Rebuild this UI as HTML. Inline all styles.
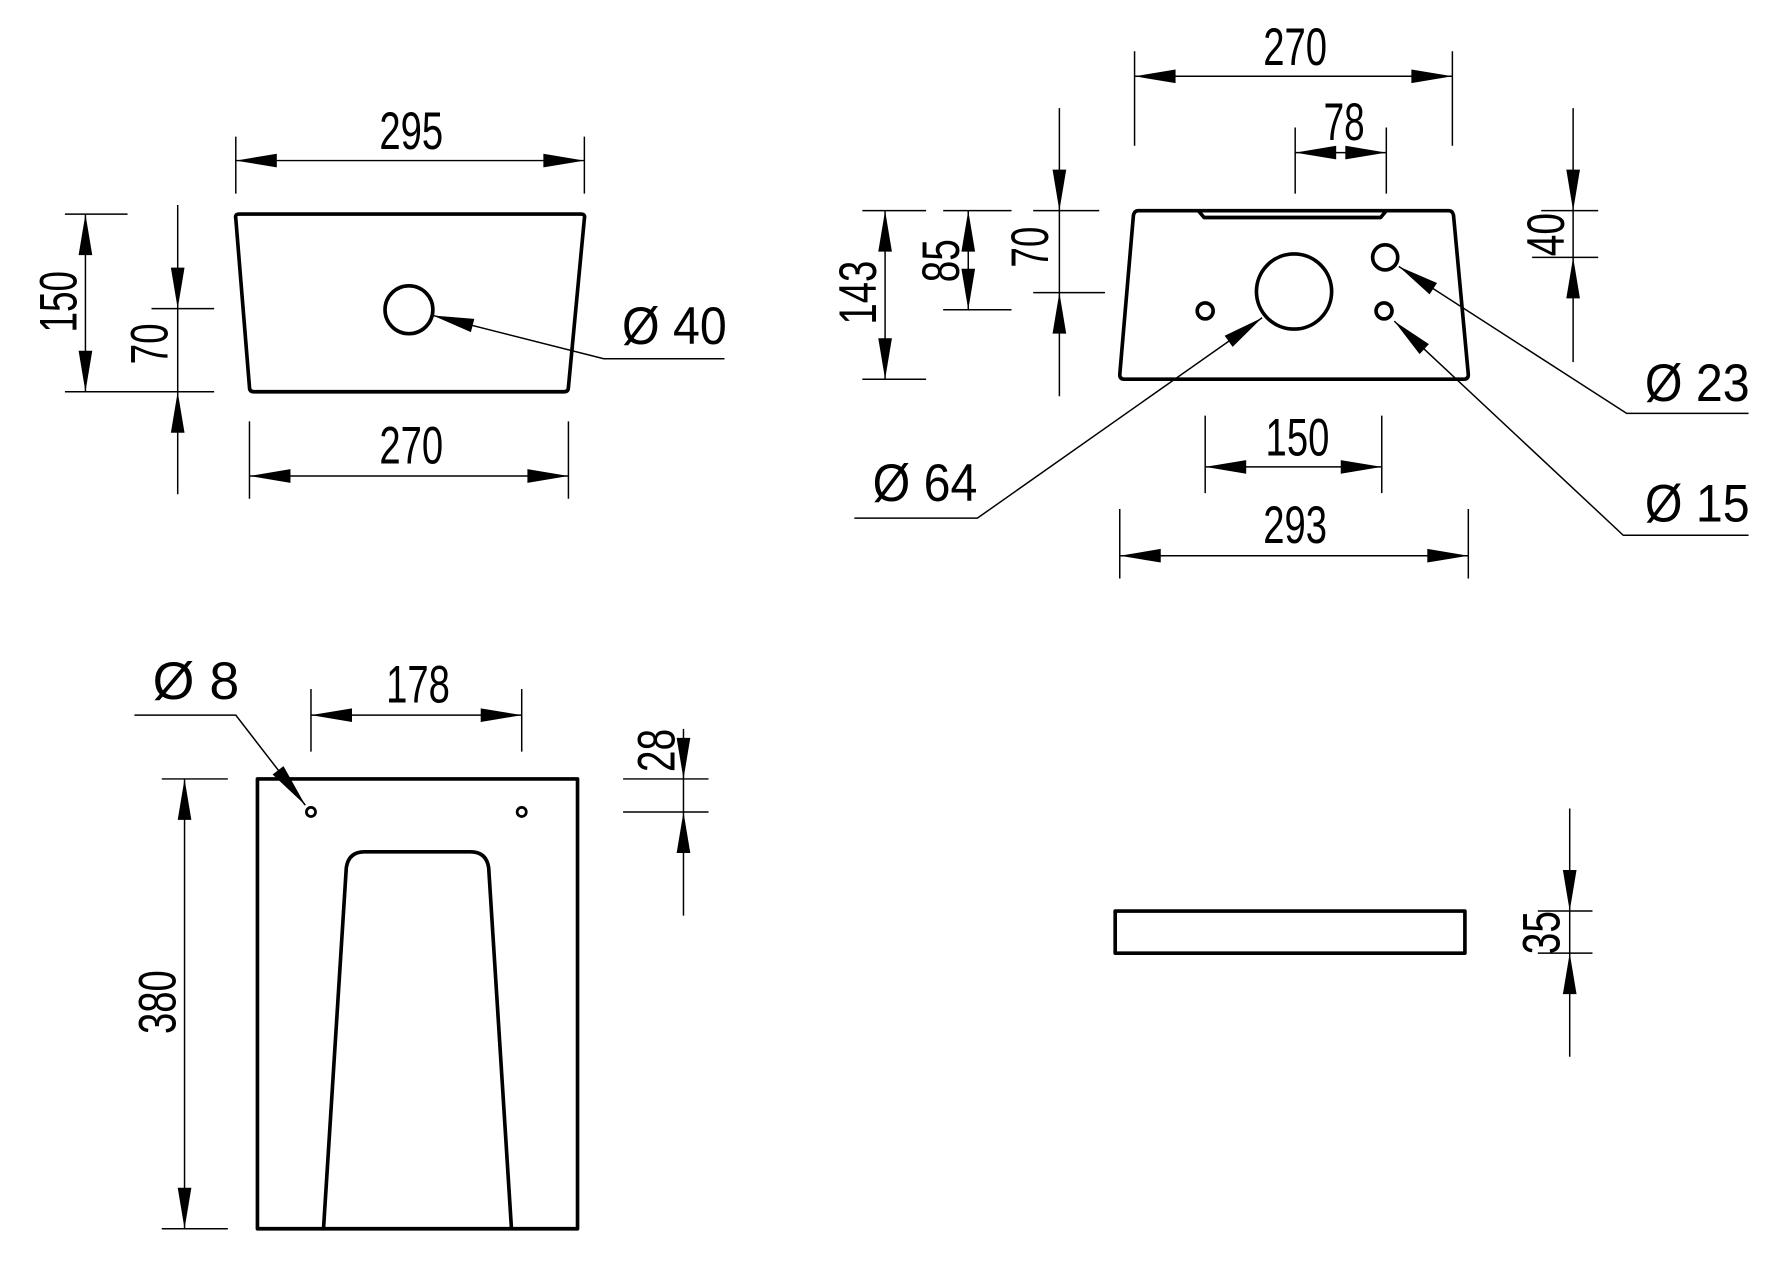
<!DOCTYPE html>
<html><head><meta charset="utf-8"><style>
html,body{margin:0;padding:0;background:#fff;}
svg{display:block;}
text{font-family:"Liberation Sans",sans-serif;font-size:46px;fill:#000;}
</style></head><body>
<svg width="1785" height="1280" viewBox="0 0 1567 1124" preserveAspectRatio="none" xmlns="http://www.w3.org/2000/svg">
<g fill="none" stroke="#000" stroke-width="3.2" stroke-linejoin="round">
<path d="M210,188 L510,188 Q514,188 513,192 L499,340 Q499,344 495,344 L223,344 Q219,344 219,340 L207,192 Q206,188 210,188 Z"/>
<circle cx="359" cy="272" r="21"/>
<path d="M999,185 L1272,185 Q1275,185 1276,189 L1289,329 Q1289,333 1285,333 L987,333 Q983,333 983,329 L995,189 Q996,185 999,185 Z"/>
<path d="M1052,185 L1057,191 L1212,191 L1217,185"/>
<circle cx="1136" cy="256" r="33"/>
<circle cx="1216" cy="226" r="11"/>
<circle cx="1215" cy="273" r="7"/>
<circle cx="1058" cy="273" r="7"/>
<rect x="226" y="684" width="281" height="395"/>
<circle cx="273" cy="713" r="4" stroke-width="2.4"/>
<circle cx="458" cy="713" r="4" stroke-width="2.4"/>
<path d="M284,1079 L304,762 Q306,748 320,748 L413,748 Q427,748 429,762 L449,1079"/>
<rect x="979" y="800" width="307" height="37"/>
</g>
<g fill="none" stroke="#000" stroke-width="1.3">
<path d="M207,120V170M513,120V170M207,141H513"/>
<path d="M219,370V438M499,370V438M219,418H499"/>
<path d="M57,188H112M57,344H188M75,188V344"/>
<path d="M156,180V434M133,271H188"/>
<path d="M380,277L530,315H636"/>
<path d="M996,45V128M1275,45V128M996,67H1275"/>
<path d="M1137,112V170M1217,112V170M1137,134H1217"/>
<path d="M757,185H813M757,333H813M777,185V333"/>
<path d="M828,185H888M828,272H888M850,185V272"/>
<path d="M930,95V348M907,185H965M907,257H970"/>
<path d="M1381,95V318M1353,185H1403M1345,226H1403"/>
<path d="M1228,234L1428,363H1535"/>
<path d="M1224,282L1425,470H1535"/>
<path d="M1108,279L858,455H750"/>
<path d="M1058,365V433M1213,365V433M1058,410H1213"/>
<path d="M983,447V508M1289,447V508M983,488H1289"/>
<path d="M273,605V660M458,605V660M273,628H458"/>
<path d="M118,628H207L268,707"/>
<path d="M142,684H200M142,1079H200M162,684V1079"/>
<path d="M600,640V804M547,684H622M547,713H622"/>
<path d="M1378,710V928M1350,800H1398M1350,837H1398"/>
</g>
<g fill="#000">
<polygon points="207,141 243,135 243,147"/><polygon points="513,141 477,135 477,147"/>
<polygon points="219,418 255,412 255,424"/><polygon points="499,418 463,412 463,424"/>
<polygon points="75,188 69,224 81,224"/><polygon points="75,344 69,308 81,308"/>
<polygon points="156,271 150,235 162,235"/><polygon points="156,344 150,380 162,380"/>
<polygon points="380,277 416.4,280 413.4,291.6"/>
<polygon points="996,67 1032,61 1032,73"/><polygon points="1275,67 1239,61 1239,73"/>
<polygon points="1137,134 1173,128 1173,140"/><polygon points="1217,134 1181,128 1181,140"/>
<polygon points="777,185 771,221 783,221"/><polygon points="777,333 771,297 783,297"/>
<polygon points="850,185 844,221 856,221"/><polygon points="850,272 844,236 856,236"/>
<polygon points="930,185 924,149 936,149"/><polygon points="930,257 924,293 936,293"/>
<polygon points="1381,185 1375,149 1387,149"/><polygon points="1381,226 1375,262 1387,262"/>
<polygon points="1228,234 1255,258.5 1261.5,248.5"/>
<polygon points="1224,282 1246.2,311 1254.4,302.2"/>
<polygon points="1108,279 1075.1,294.8 1082.1,304.6"/>
<polygon points="1058,410 1094,404 1094,416"/><polygon points="1213,410 1177,404 1177,416"/>
<polygon points="983,488 1019,482 1019,494"/><polygon points="1289,488 1253,482 1253,494"/>
<polygon points="273,628 309,622 309,634"/><polygon points="458,628 422,622 422,634"/>
<polygon points="268,707 248.9,672.8 239.3,680.1"/>
<polygon points="162,684 156,720 168,720"/><polygon points="162,1079 156,1043 168,1043"/>
<polygon points="600,684 594,648 606,648"/><polygon points="600,713 594,749 606,749"/>
<polygon points="1378,800 1372,764 1384,764"/><polygon points="1378,837 1372,873 1384,873"/>
</g>
<g>
<text x="333" y="131" textLength="56" lengthAdjust="spacingAndGlyphs">295</text>
<text x="333" y="407" textLength="56" lengthAdjust="spacingAndGlyphs">270</text>
<text transform="translate(67,292) rotate(-90)" textLength="54" lengthAdjust="spacingAndGlyphs">150</text>
<text transform="translate(147,320) rotate(-90)" textLength="36" lengthAdjust="spacingAndGlyphs">70</text>
<text x="546" y="302" textLength="92" lengthAdjust="spacingAndGlyphs">Ø 40</text>
<text x="1109" y="57" textLength="56" lengthAdjust="spacingAndGlyphs">270</text>
<text x="1162" y="123" textLength="36" lengthAdjust="spacingAndGlyphs">78</text>
<text transform="translate(769,285) rotate(-90)" textLength="56" lengthAdjust="spacingAndGlyphs">143</text>
<text transform="translate(842,248) rotate(-90)" textLength="38" lengthAdjust="spacingAndGlyphs">85</text>
<text transform="translate(920,235) rotate(-90)" textLength="36" lengthAdjust="spacingAndGlyphs">70</text>
<text transform="translate(1373,225) rotate(-90)" textLength="38" lengthAdjust="spacingAndGlyphs">40</text>
<text x="1444" y="352" textLength="92" lengthAdjust="spacingAndGlyphs">Ø 23</text>
<text x="1444" y="458" textLength="92" lengthAdjust="spacingAndGlyphs">Ø 15</text>
<text x="766" y="440" textLength="92" lengthAdjust="spacingAndGlyphs">Ø 64</text>
<text x="1111" y="400" textLength="56" lengthAdjust="spacingAndGlyphs">150</text>
<text x="1109" y="477" textLength="56" lengthAdjust="spacingAndGlyphs">293</text>
<text x="339" y="617" textLength="56" lengthAdjust="spacingAndGlyphs">178</text>
<text x="134" y="614" textLength="76" lengthAdjust="spacingAndGlyphs">Ø 8</text>
<text transform="translate(154,908) rotate(-90)" textLength="56" lengthAdjust="spacingAndGlyphs">380</text>
<text transform="translate(592,678) rotate(-90)" textLength="38" lengthAdjust="spacingAndGlyphs">28</text>
<text transform="translate(1369,838) rotate(-90)" textLength="38" lengthAdjust="spacingAndGlyphs">35</text>
</g>
</svg>
</body></html>
